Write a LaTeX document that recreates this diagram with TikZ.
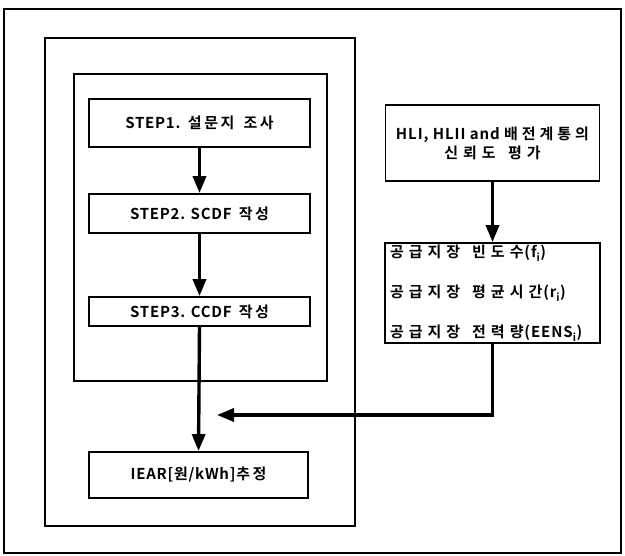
\documentclass[tikz,border=0pt]{standalone}
\usepackage{fontspec}
\setmainfont{Noto Sans CJK KR}[BoldFont={Noto Sans CJK KR Bold}]
\usetikzlibrary{arrows.meta}
\newfontfamily\krA{Noto Sans CJK KR Bold}[LetterSpace=5]
\newfontfamily\krB{Noto Sans CJK KR Bold}[LetterSpace=6]
\newfontfamily\krC{Noto Sans CJK KR Bold}[LetterSpace=6]
\newcommand\ga{\kern2.5pt}
\newcommand\gb{\kern4pt}
\newcommand\gc{\kern5pt}
\tikzset{
  frame/.style={draw=black, line width=1.6pt},
  stepbox/.style={draw=black, line width=1.8pt, minimum width=221pt, inner sep=0pt, font=\krA\fontsize{15}{18}\selectfont},
  flow/.style={draw=black, line width=3.4pt, -{Triangle[width=13pt,length=17pt]}},
}
\begin{document}
\begin{tikzpicture}[x=1pt,y=-1pt]
\useasboundingbox (0,0) rectangle (625,556);
% frames
\draw[frame] (4,9) rectangle (621,553);
\draw[frame] (45,38) rectangle (355,526);
\draw[frame] (74,74) rectangle (327,381);
% left column
\node[stepbox, minimum height=48pt] (s1) at (199.5,123) {STEP1.\hspace{2pt} 설\ga 문\ga 지\hspace{5pt} 조\ga 사};
\node[stepbox, minimum height=39pt] (s2) at (199.5,213.5) {STEP2. SCDF\hspace{3pt} 작\ga 성};
\node[stepbox, minimum height=29pt] (s3) at (199.5,311.5) {STEP3. CCDF\hspace{3pt} 작\ga 성};
\node[stepbox, minimum width=219pt, minimum height=46pt] (iear) at (198.5,475) {IEAR[원/kWh]추\ga 정};
% right column
\node[stepbox, minimum width=214pt, minimum height=76pt, align=center, font=\krB\fontsize{15}{19}\selectfont] (hli) at (492.5,143) {HLI, HLII and 배\gb 전\gb 계\gb 통\gb 의\\신\gc 뢰\gc 도\hspace{8pt} 평\gc 가};
\node[stepbox, minimum width=215pt, minimum height=100pt, align=left, text width=205pt, font=\krC\fontsize{15}{40}\selectfont] (sup) at (492.5,293)
  {공\gc 급\gc 지\gc 장\hspace{7pt} 빈\gc 도\gc 수(f\textsubscript{i})\\공\gc 급\gc 지\gc 장\hspace{7pt} 평\gc 균\gc 시\gc 간(r\textsubscript{i})\\공\gc 급\gc 지\gc 장\hspace{7pt} 전\gc 력\gc 량(EENS\textsubscript{i})};
\coordinate (join) at (217,415);
% connectors
\draw[flow] (s1.south) -- (s2.north);
\draw[flow] (s2.south) -- (s3.north);
\draw[flow] (s3.south) -- (iear.north);
\draw[flow] (hli.south) -- (sup.north);
\draw[flow] (sup.south) |- (join);
\end{tikzpicture}
\end{document}
